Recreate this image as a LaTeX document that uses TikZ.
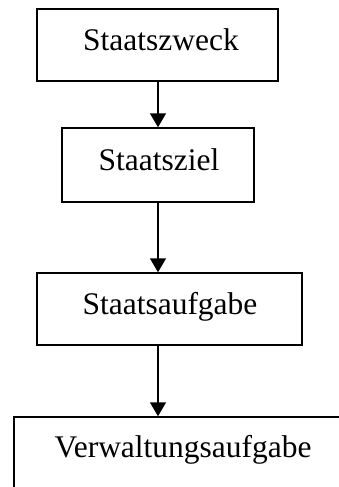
\documentclass[tikz,border=0pt]{standalone}
\usepackage{fontspec}
\setmainfont{Liberation Serif}
\usetikzlibrary{arrows.meta}
\begin{document}
\begin{tikzpicture}[x=0.75pt,y=-0.75pt,
  box/.style={draw=black,line width=1.1pt,inner sep=0pt,minimum width=#1},
  lbl/.style={anchor=base,inner sep=0pt,font=\fontsize{23.6pt}{28pt}\selectfont},
  arr/.style={line width=1.1pt,-{Triangle[width=12pt,length=10.5pt]}}]
  \useasboundingbox (0,0) rectangle (339,487);
  \clip (0,0) rectangle (339,487);
  % boxes of the chain
  \node[box=180.75pt,minimum height=54pt]   (b1) at (157.5,45)  {};
  \node[box=144pt,minimum height=55.5pt]    (b2) at (158,165)   {};
  \node[box=198.75pt,minimum height=54pt]   (b3) at (169.5,309) {};
  \node[box=259.5pt,minimum height=62.25pt] (b4) at (187,458.5) {};
  % labels
  \node[lbl] (t1) at (161,50)  {Staatszweck};
  \node[lbl] (t2) at (159,170) {Staatsziel};
  \node[lbl] (t3) at (170,314) {Staatsaufgabe};
  \node[lbl] (t4) at (183,457) {Verwaltungsaufgabe};
  % connectors
  \draw[arr] (b1.south -| b2.north) -- (b2.north);
  \draw[arr] (b2.south) -- (b3.north -| b2.south);
  \draw[arr] (b3.south -| b2.south) -- (b4.north -| b2.south);
\end{tikzpicture}
\end{document}
